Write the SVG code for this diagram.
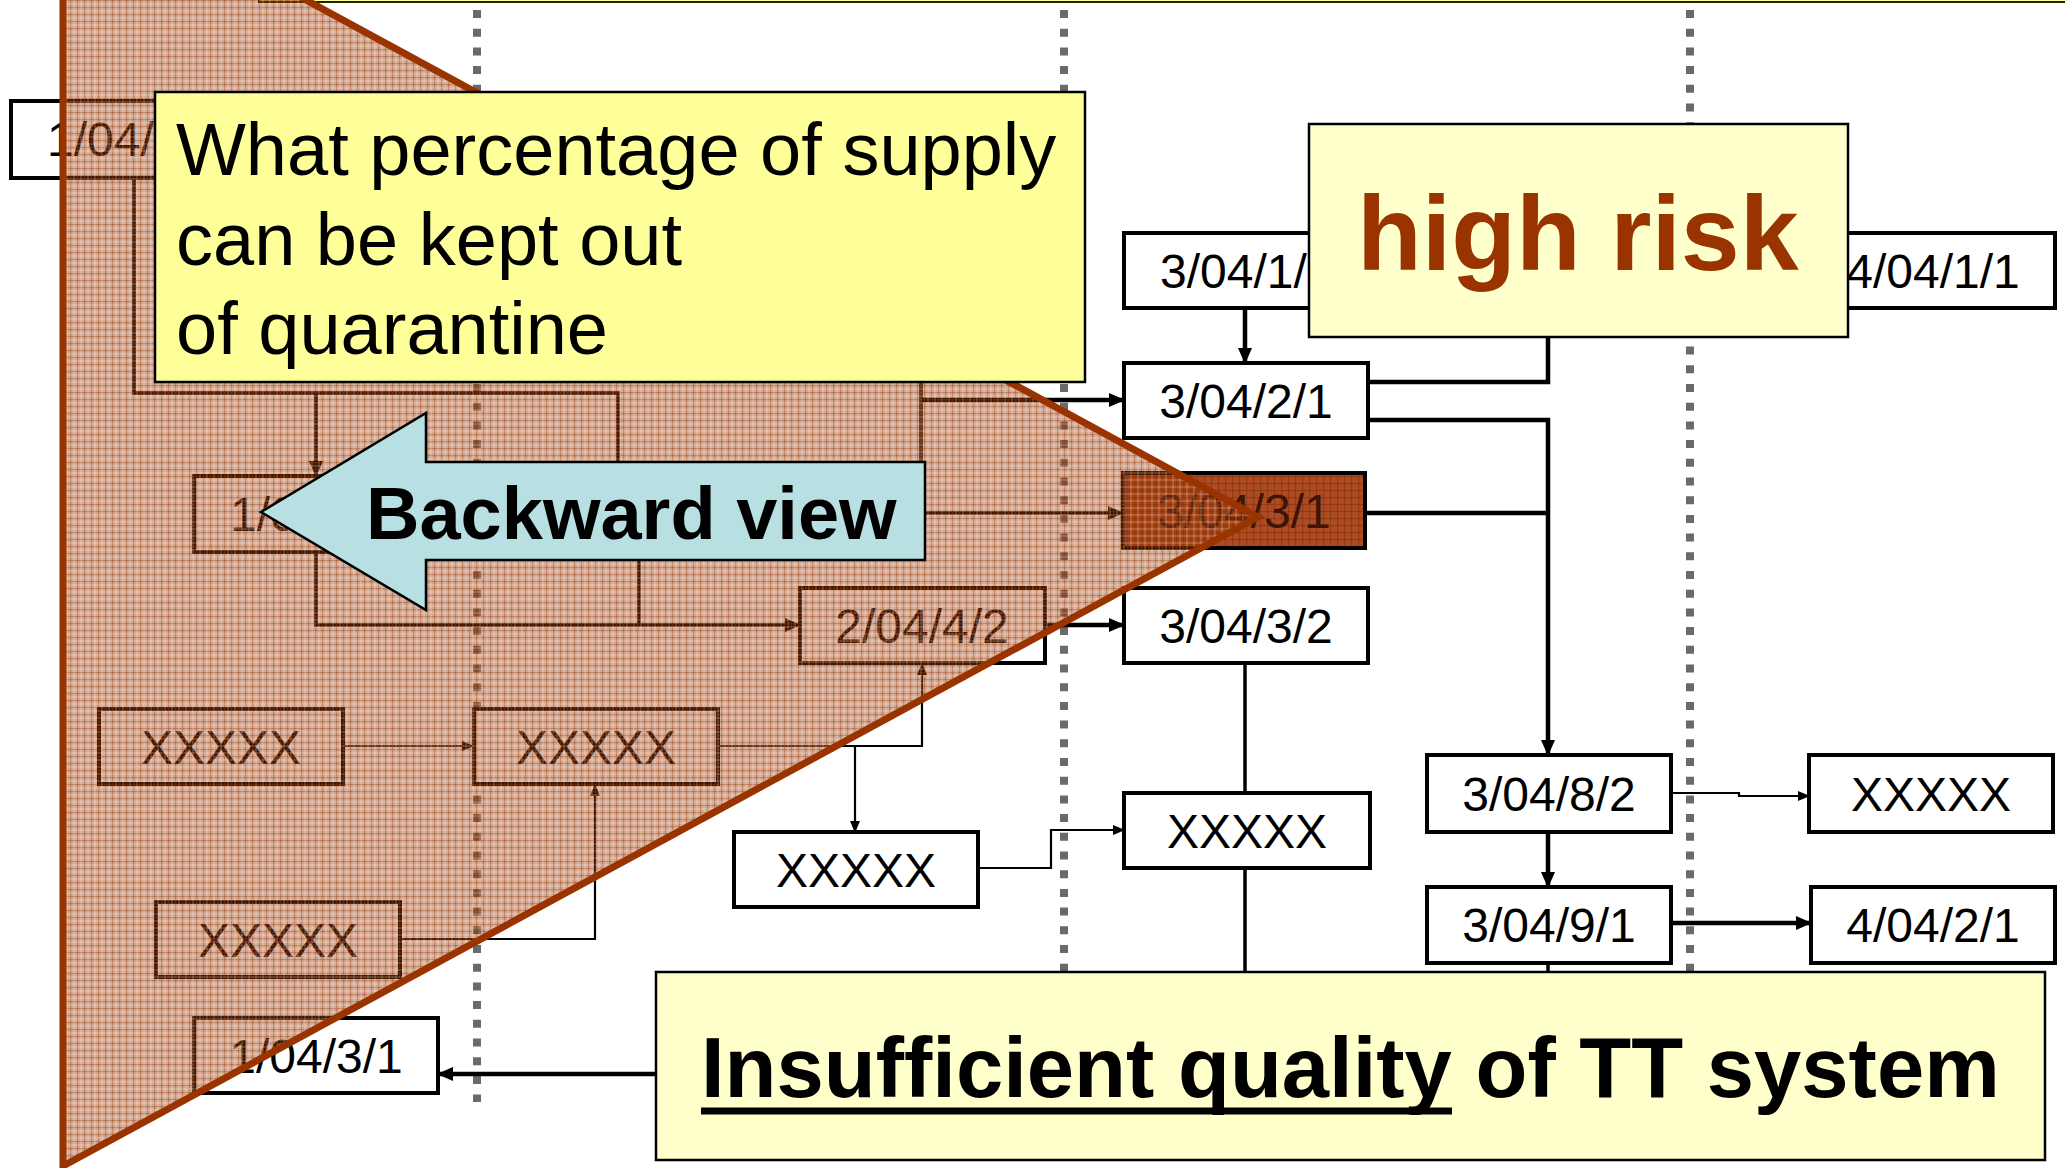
<svg xmlns="http://www.w3.org/2000/svg" width="2065" height="1168" viewBox="0 0 2065 1168">
<style>
.box{fill:#fff;stroke:#000;stroke-width:4}
.lbl{font-family:"Liberation Sans",Arial,sans-serif;font-size:48px;fill:#000}
.mid{text-anchor:middle}
.dash{stroke:#6a6a6a;stroke-width:8;stroke-dasharray:8 10.7;fill:none}
.thick{stroke:#000;stroke-width:4.5;fill:none}
.med{stroke:#000;stroke-width:3.5;fill:none}
.thin{stroke:#000;stroke-width:2.2;fill:none}
.note{stroke:#000;stroke-width:2.5}
</style>
<defs>
<marker id="ah" viewBox="0 0 16 14" refX="15" refY="7" markerWidth="16" markerHeight="14" markerUnits="userSpaceOnUse" orient="auto"><path d="M0,0 L16,7 L0,14 z" fill="#000"/></marker>
<marker id="as" viewBox="0 0 12 10" refX="11" refY="5" markerWidth="12" markerHeight="10" markerUnits="userSpaceOnUse" orient="auto"><path d="M0,0 L12,5 L0,10 z" fill="#000"/></marker>
<pattern id="tex" width="7" height="7" patternUnits="userSpaceOnUse">
<rect width="7" height="7" fill="#993300" fill-opacity="0.42"/>
<rect width="7" height="1.2" fill="#993300" fill-opacity="0.35"/>
<rect width="1.2" height="7" fill="#993300" fill-opacity="0.35"/>
<rect x="3.5" width="1" height="7" fill="#fff" fill-opacity="0.3"/>
<rect y="3.5" width="7" height="1" fill="#fff" fill-opacity="0.3"/>
</pattern>
<pattern id="tex2" width="7" height="7" patternUnits="userSpaceOnUse">
<rect width="7" height="1.2" fill="#7a2800" fill-opacity="0.45"/>
<rect width="1.2" height="7" fill="#7a2800" fill-opacity="0.45"/>
</pattern>
</defs>
<rect width="2065" height="1168" fill="#fff"/>
<g id="top-strip"><rect x="259" y="-40" width="1900" height="42" fill="#FFFF99" stroke="#222200" stroke-width="2"/></g>
<g id="timeline-dividers">
<line class="dash" x1="477" y1="10" x2="477" y2="1102"/>
<line class="dash" x1="1064" y1="10" x2="1064" y2="1000"/>
<line class="dash" x1="1690" y1="10" x2="1690" y2="1000"/>
</g>
<g id="connectors">
<path class="med" d="M134,178 V393 H618 V476" marker-end="url(#ah)"/>
<path class="med" d="M316,393 V476" marker-end="url(#ah)"/>
<path class="med" d="M316,552 V625 H800" marker-end="url(#ah)"/>
<path class="med" d="M639,545 V625"/>
<path class="med" d="M921,370 V513 H1123" marker-end="url(#ah)"/>
<path class="thick" d="M921,400 H1124" marker-end="url(#ah)"/>
<path class="thin" d="M343,746 H473" marker-end="url(#as)"/>
<path class="thin" d="M718,746 H922 V664" marker-end="url(#as)"/>
<path class="thin" d="M855,746 V832" marker-end="url(#as)"/>
<path class="thin" d="M400,939 H595 V785" marker-end="url(#as)"/>
<path class="thick" d="M656,1074 H438" marker-end="url(#ah)"/>
<path class="thick" d="M1245,308 V363" marker-end="url(#ah)"/>
<path class="thick" d="M1045,625 H1124" marker-end="url(#ah)"/>
<path class="thick" d="M1368,382 H1548 V320"/>
<path class="thick" d="M1368,420 H1548 V755" marker-end="url(#ah)"/>
<path class="thick" d="M1365,513 H1548"/>
<path class="med" d="M1245,663 V793"/>
<path class="med" d="M1245,867 V980"/>
<path class="thin" d="M978,868 H1051 V830 H1124" marker-end="url(#as)"/>
<path class="thin" d="M1671,793 H1739 V796 H1809" marker-end="url(#as)"/>
<path class="thick" d="M1548,832 V887" marker-end="url(#ah)"/>
<path class="thick" d="M1671,923 H1811" marker-end="url(#ah)"/>
<path class="med" d="M1548,963 V980"/>
</g>
<g id="node-1-04-a"><rect class="box" x="11" y="101" width="244" height="77"/><text class="lbl" x="47" y="156">1/04/</text></g>
<g id="node-1-0-b"><rect class="box" x="194" y="476" width="244" height="76"/><text class="lbl" x="230" y="531">1/0</text></g>
<g id="node-2-04-4-2"><rect class="box" x="800" y="588" width="245" height="75"/><text class="lbl mid" x="922" y="643">2/04/4/2</text></g>
<g id="node-3-04-1"><rect class="box" x="1124" y="233" width="244" height="75"/><text class="lbl" x="1160" y="288">3/04/1/</text></g>
<g id="node-4-04-1-1"><rect class="box" x="1811" y="233" width="244" height="75"/><text class="lbl mid" x="1933" y="288">4/04/1/1</text></g>
<g id="node-3-04-2-1"><rect class="box" x="1124" y="363" width="244" height="75"/><text class="lbl mid" x="1246" y="418">3/04/2/1</text></g>
<g id="node-3-04-3-1"><rect x="1123" y="473" width="242" height="75" fill="#AD4C24" stroke="#000" stroke-width="4"/><rect x="1125" y="475" width="238" height="71" fill="url(#tex2)"/><text class="lbl mid" x="1244" y="528" style="fill:#3D1405">3/04/3/1</text></g>
<g id="node-3-04-3-2"><rect class="box" x="1124" y="588" width="244" height="75"/><text class="lbl mid" x="1246" y="643">3/04/3/2</text></g>
<g id="node-x1"><rect class="box" x="99" y="709" width="244" height="75"/><text class="lbl mid" x="221" y="764">XXXXX</text></g>
<g id="node-x2"><rect class="box" x="474" y="709" width="244" height="75"/><text class="lbl mid" x="596" y="764">XXXXX</text></g>
<g id="node-x3"><rect class="box" x="734" y="832" width="244" height="75"/><text class="lbl mid" x="856" y="887">XXXXX</text></g>
<g id="node-x4"><rect class="box" x="1124" y="793" width="246" height="75"/><text class="lbl mid" x="1247" y="848">XXXXX</text></g>
<g id="node-x5"><rect class="box" x="156" y="902" width="244" height="75"/><text class="lbl mid" x="278" y="957">XXXXX</text></g>
<g id="node-1-04-3-1"><rect class="box" x="194" y="1018" width="244" height="75"/><text class="lbl mid" x="316" y="1073">1/04/3/1</text></g>
<g id="node-3-04-8-2"><rect class="box" x="1427" y="755" width="244" height="77"/><text class="lbl mid" x="1549" y="811">3/04/8/2</text></g>
<g id="node-x6"><rect class="box" x="1809" y="755" width="244" height="77"/><text class="lbl mid" x="1931" y="811">XXXXX</text></g>
<g id="node-3-04-9-1"><rect class="box" x="1427" y="887" width="244" height="76"/><text class="lbl mid" x="1549" y="942">3/04/9/1</text></g>
<g id="node-4-04-2-1"><rect class="box" x="1811" y="887" width="244" height="76"/><text class="lbl mid" x="1933" y="942">4/04/2/1</text></g>
<g id="backward-triangle"><polygon points="63,-132 1258,517 63,1166" fill="url(#tex)" stroke="#993300" stroke-width="7" stroke-linejoin="miter"/></g>
<g id="note-percentage"><rect class="note" x="155" y="92" width="930" height="290" fill="#FFFF99"/>
<text font-family="Liberation Sans, Arial, sans-serif" font-size="74" fill="#000"><tspan x="176" y="175">What percentage of supply</tspan><tspan x="176" y="265">can be kept out</tspan><tspan x="176" y="354">of quarantine</tspan></text></g>
<g id="backward-arrow"><polygon points="261,512 426,413 426,462 925,462 925,560 426,560 426,610" fill="#B8DFE1" stroke="#000" stroke-width="2.5" stroke-linejoin="miter"/>
<text x="366" y="539" font-family="Liberation Sans, Arial, sans-serif" font-weight="bold" font-size="74" fill="#000">Backward view</text></g>
<g id="note-high-risk"><rect class="note" x="1309" y="124" width="539" height="213" fill="#FFFFCC"/>
<text x="1357" y="270" font-family="Liberation Sans, Arial, sans-serif" font-weight="bold" font-size="106" fill="#993300">high risk</text></g>
<g id="note-quality"><rect class="note" x="656" y="972" width="1389" height="188" fill="#FFFFCC"/>
<text x="701" y="1097" font-family="Liberation Sans, Arial, sans-serif" font-weight="bold" font-size="85" fill="#000">Insufficient quality of TT system</text>
<line x1="701" y1="1111" x2="1452" y2="1111" stroke="#000" stroke-width="7"/></g>
</svg>
